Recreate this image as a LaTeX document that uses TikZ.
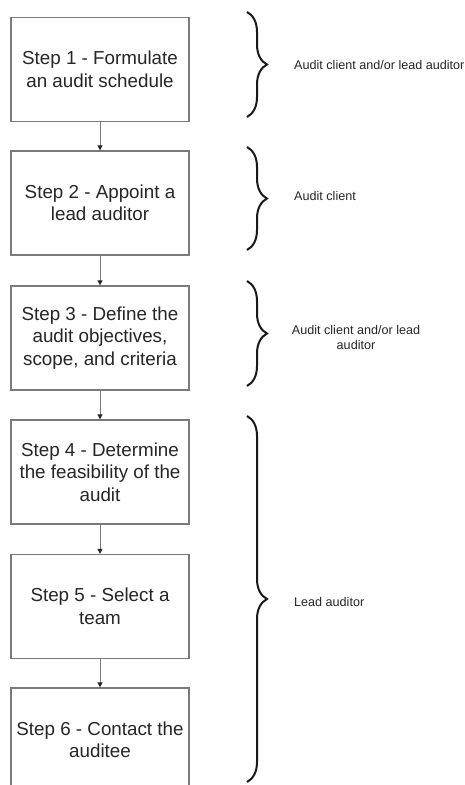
\documentclass[tikz,border=0pt]{standalone}
\usepackage{fontspec}
\setmainfont{Liberation Sans}
\usetikzlibrary{arrows.meta,decorations.pathreplacing}
\definecolor{boxline}{HTML}{7A7A7A}
\definecolor{txt}{HTML}{262626}
\tikzset{
  stepbox/.style={draw=boxline, line width=1.3pt, minimum width=178pt, minimum height=104pt,
    inner sep=0pt, align=center, text=txt, font=\fontsize{18.8}{22.5}\selectfont},
  flow/.style={draw=boxline, line width=1pt, -{Triangle[length=5pt,width=5pt,color=black!85]}},
  bracestyle/.style={draw=black!90, line width=2pt, decorate,
    decoration={brace, amplitude=20pt, aspect=0.5}},
  role/.style={inner sep=0pt, text=txt, font=\fontsize{12.6}{15}\selectfont}
}
\begin{document}
\begin{tikzpicture}[x=1pt,y=-1pt]
\useasboundingbox (0,0) rectangle (465,785);
\clip (0,0) rectangle (465,785);
\fill[white] (0,0) rectangle (465,785);
\node[stepbox] (s1) at (100,69.5) {Step 1 - Formulate\\an audit schedule};
\node[stepbox] (s2) at (100,203) {Step 2 - Appoint a\\lead auditor};
\node[stepbox] (s3) at (100,338) {Step 3 - Define the\\audit objectives,\\scope, and criteria};
\node[stepbox] (s4) at (100,472) {Step 4 - Determine\\the feasibility of the\\audit};
\node[stepbox] (s5) at (100,606.5) {Step 5 - Select a\\team};
\node[stepbox] (s6) at (100,740) {Step 6 - Contact the\\auditee};
\draw[flow] (s1) -- (s2);
\draw[flow] (s2) -- (s3);
\draw[flow] (s3) -- (s4);
\draw[flow] (s4) -- (s5);
\draw[flow] (s5) -- (s6);
\coordinate (b1t) at (247,12);  \coordinate (b1b) at (247,117);
\coordinate (b2t) at (247,147); \coordinate (b2b) at (247,250);
\coordinate (b3t) at (247,281); \coordinate (b3b) at (247,386);
\coordinate (b4t) at (247,416); \coordinate (b4b) at (247,782);
\draw[bracestyle] (b1t) -- (b1b);
\draw[bracestyle] (b2t) -- (b2b);
\draw[bracestyle] (b3t) -- (b3b);
\draw[bracestyle] (b4t) -- (b4b);
\node[role, anchor=west] (r1) at (294,65) {Audit client and/or lead auditor};
\node[role, anchor=west] (r2) at (294,196) {Audit client};
\node[role, align=center] (r3) at (356,337.5) {Audit client and/or lead\\auditor};
\node[role, anchor=west] (r4) at (294,602) {Lead auditor};
\end{tikzpicture}
\end{document}
